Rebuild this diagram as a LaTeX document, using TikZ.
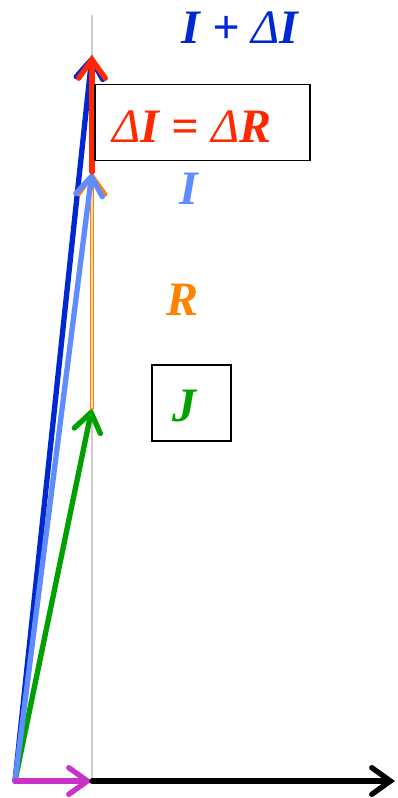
\documentclass[tikz,border=0pt]{standalone}
\usepackage{fontspec}
\setmainfont{Liberation Serif}
\usepackage{xcolor}
\definecolor{darkblue}{RGB}{0,40,210}
\definecolor{lightblue}{RGB}{95,140,255}
\definecolor{redvec}{RGB}{255,40,0}
\definecolor{orangevec}{RGB}{255,130,0}
\definecolor{greenvec}{RGB}{0,160,0}
\definecolor{magentavec}{RGB}{200,50,200}
\usepackage{tikz}
\usetikzlibrary{arrows.meta}
\tikzset{
  vec/.style={-{Straight Barb[length=14pt,width=20pt,line cap=round]},line width=4pt,line cap=round},
  lbl/.style={font=\fontsize{36}{40}\selectfont\bfseries\itshape,inner sep=0pt},
  box/.style={draw,line width=1.3pt},
}
\newcommand{\dlt}{{\mdseries\itshape\char"0394}}
\begin{document}
\begin{tikzpicture}[x=0.75pt,y=-0.75pt]
\useasboundingbox (0,0) rectangle (397,798);
\coordinate (O) at (15,781);
\coordinate (P) at (92,781);
\coordinate (E) at (395,781);
\coordinate (J) at (92,408);
\coordinate (I) at (92,172);
\coordinate (T) at (92,55);
\coordinate (G) at (92,15);
% axis
\draw[gray!40,line width=1.8pt] (G) -- (P);
% vectors
\draw[vec,darkblue] (O) -- (T);
\draw[vec,greenvec] (O) -- (J);
\draw[vec,orangevec,line width=3.2pt] (J) -- (I);
\draw[orange!30,line width=1pt] (J) -- ([yshift=-14pt]I);
\draw[vec,lightblue] (O) -- (I);
\draw[vec,redvec] (I) -- (T);
\draw[vec,magentavec] (O) -- (P);
\draw[vec,black] (P) -- (E);
% labels
\node[lbl,darkblue] (sum) at (240,28) {I + \dlt I};
\node[box,minimum width=161pt,minimum height=57pt] (dbox) at (202.5,122.5) {};
\node[lbl,redvec] (dlabel) at (192,127) {\dlt I = \dlt R};
\node[lbl,lightblue] (ilabel) at (189,189) {I};
\node[lbl,orangevec] (rlabel) at (183,300) {R};
\node[box,minimum width=59pt,minimum height=57pt] (jbox) at (191.5,403) {};
\node[lbl,greenvec] (jlabel) at (184,406) {J};
\end{tikzpicture}
\end{document}
